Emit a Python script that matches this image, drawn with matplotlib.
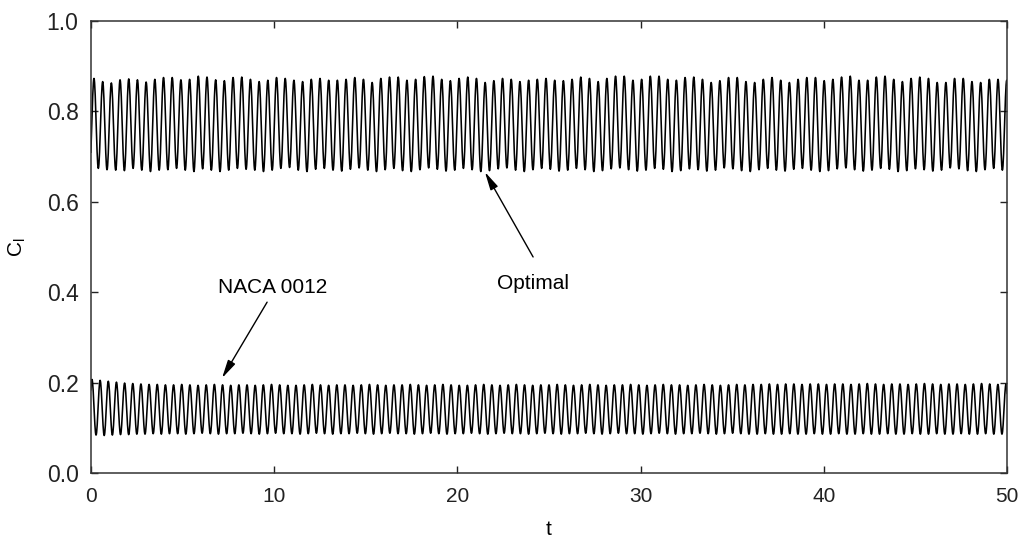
import numpy as np
import matplotlib
matplotlib.use("Agg")
import matplotlib.pyplot as plt

plt.rcParams["font.family"] = ["Liberation Sans", "DejaVu Sans"]
plt.rcParams["mathtext.fontset"] = "custom"
plt.rcParams["mathtext.rm"] = "Liberation Sans"

# Lift coefficient history: successive maxima / minima of each oscillation
optimal_t0 = 0.16          # time of first maximum
optimal_period = 0.4745
optimal_peaks = [
    0.873, 0.866, 0.863, 0.870, 0.872, 0.870, 0.865, 0.871, 0.875, 0.875,
    0.870, 0.871, 0.878, 0.876, 0.870, 0.868, 0.875, 0.876, 0.871, 0.866,
    0.869, 0.875, 0.873, 0.869, 0.866, 0.871, 0.873, 0.869, 0.869,
    0.871, 0.875, 0.871, 0.864, 0.873, 0.876, 0.876, 0.869, 0.871, 0.877,
    0.878, 0.871, 0.868, 0.873, 0.876, 0.873, 0.864, 0.868, 0.873, 0.871,
    0.866, 0.869, 0.871, 0.873, 0.869, 0.868,
    0.871, 0.876, 0.873, 0.866, 0.873, 0.878, 0.878, 0.869, 0.871, 0.878,
    0.878, 0.871, 0.869, 0.875, 0.876, 0.871, 0.864, 0.868, 0.875, 0.875,
    0.866, 0.864, 0.871, 0.875, 0.869, 0.864, 0.871, 0.875,
    0.875, 0.868, 0.871, 0.876, 0.878, 0.869, 0.869, 0.876, 0.878, 0.871,
    0.866, 0.873, 0.876, 0.873, 0.864, 0.864, 0.873, 0.873, 0.866, 0.864,
    0.871, 0.871, 0.869,
]
optimal_troughs = [
    0.672, 0.674, 0.671, 0.670, 0.669, 0.674, 0.670, 0.667, 0.670, 0.671,
    0.674, 0.670, 0.667, 0.673, 0.670, 0.667, 0.670, 0.674, 0.672, 0.670,
    0.667, 0.670, 0.674, 0.676, 0.670, 0.667, 0.672, 0.674, 0.670,
    0.668, 0.672, 0.675, 0.670, 0.667, 0.671, 0.674, 0.669, 0.667, 0.671,
    0.675, 0.672, 0.668, 0.670, 0.674, 0.671, 0.667, 0.669, 0.673, 0.675,
    0.670, 0.667, 0.671, 0.674, 0.672, 0.668,
    0.670, 0.674, 0.671, 0.667, 0.669, 0.673, 0.675, 0.671, 0.668, 0.670,
    0.674, 0.672, 0.667, 0.669, 0.673, 0.671, 0.668, 0.670, 0.675, 0.673,
    0.669, 0.667, 0.671, 0.674, 0.670, 0.668, 0.672, 0.674,
    0.670, 0.667, 0.669, 0.673, 0.675, 0.671, 0.668, 0.670, 0.674, 0.672,
    0.667, 0.669, 0.673, 0.671, 0.668, 0.670, 0.675, 0.673, 0.669, 0.667,
    0.671, 0.674, 0.670, 0.668,
]

naca_t0 = 0.05
naca_period = 0.4455
naca_peaks = [
    0.207, 0.205, 0.203, 0.201, 0.199, 0.198, 0.197, 0.196, 0.196, 0.195,
    0.195, 0.196, 0.195, 0.194, 0.195, 0.196, 0.195, 0.194, 0.195, 0.195,
    0.194, 0.195, 0.196, 0.195, 0.194, 0.194, 0.195, 0.196, 0.195, 0.194,
    0.195, 0.195, 0.194, 0.195, 0.196, 0.195, 0.194, 0.195, 0.195, 0.196,
    0.195, 0.194, 0.195, 0.196, 0.195, 0.194, 0.194, 0.195, 0.196, 0.195,
    0.194, 0.195, 0.196, 0.195, 0.194, 0.195, 0.195, 0.196, 0.195, 0.194,
    0.195, 0.196, 0.195, 0.194, 0.195, 0.195, 0.196, 0.195, 0.194, 0.195,
    0.196, 0.195, 0.195, 0.194, 0.195, 0.196, 0.195, 0.194, 0.195, 0.196,
    0.195, 0.196, 0.196, 0.197, 0.196, 0.197, 0.197, 0.196, 0.197, 0.197,
    0.196, 0.197, 0.197, 0.196, 0.197, 0.198, 0.197, 0.196, 0.197, 0.197,
    0.196, 0.197, 0.198, 0.197, 0.196, 0.197, 0.197, 0.196, 0.197, 0.198,
    0.197, 0.196, 0.197,
]
naca_troughs = [
    0.086, 0.084, 0.083, 0.084, 0.085, 0.085, 0.086, 0.086, 0.087, 0.086,
    0.087, 0.087, 0.086, 0.087, 0.088, 0.087, 0.086, 0.087, 0.087, 0.088,
    0.087, 0.086, 0.087, 0.088, 0.087, 0.087, 0.086, 0.087, 0.088, 0.087,
    0.086, 0.087, 0.087, 0.088, 0.087, 0.086, 0.087, 0.088, 0.087, 0.087,
    0.086, 0.087, 0.088, 0.087, 0.086, 0.087, 0.087, 0.088, 0.087, 0.086,
    0.087, 0.088, 0.087, 0.087, 0.086, 0.087, 0.088, 0.087, 0.086, 0.087,
    0.087, 0.088, 0.087, 0.086, 0.087, 0.088, 0.087, 0.087, 0.086, 0.087,
    0.088, 0.087, 0.086, 0.087, 0.087, 0.088, 0.087, 0.086, 0.087, 0.088,
    0.087, 0.086, 0.086, 0.087, 0.086, 0.086, 0.087, 0.086, 0.086, 0.087,
    0.086, 0.086, 0.087, 0.086, 0.086, 0.087, 0.086, 0.086, 0.087, 0.086,
    0.086, 0.087, 0.086, 0.086, 0.087, 0.086, 0.086, 0.087, 0.086, 0.086,
    0.087, 0.086, 0.086, 0.087,
]

x_ticks = [0, 10, 20, 30, 40, 50]
y_ticks = [0.0, 0.2, 0.4, 0.6, 0.8, 1.0]


def oscillation(t0, period, peaks, troughs, n=14):
    """Smooth half-cosine segments through alternating minima and maxima."""
    ext = []
    for i, p in enumerate(peaks):
        ext.append(troughs[i])
        ext.append(p)
    ext.append(troughs[len(peaks)])
    ext = np.asarray(ext)
    t_ext = t0 - period / 2 + np.arange(len(ext)) * period / 2
    s = np.linspace(0, 1, n, endpoint=False)
    shape = (1 - np.cos(np.pi * s)) / 2
    tt, yy = [], []
    for k in range(len(ext) - 1):
        tt.append(t_ext[k] + s * period / 2)
        yy.append(ext[k] + (ext[k + 1] - ext[k]) * shape)
    tt.append([t_ext[-1]])
    yy.append([ext[-1]])
    return np.concatenate(tt), np.concatenate(yy)


fig = plt.figure(figsize=(10.23, 5.38), dpi=100)
ax = fig.add_axes([0.0890, 0.1208, 0.8954, 0.8401])

t_opt, cl_opt = oscillation(optimal_t0, optimal_period, optimal_peaks, optimal_troughs)
t_naca, cl_naca = oscillation(naca_t0, naca_period, naca_peaks, naca_troughs)

ax.plot(t_opt, cl_opt, color="black", lw=1.15)
ax.plot(t_naca, cl_naca, color="black", lw=1.15)

ax.set_xlim(0, 50)
ax.set_ylim(0, 1.0)
ax.set_xticks(x_ticks)
ax.set_yticks(y_ticks)
ax.set_xticklabels([str(v) for v in x_ticks])
ax.set_yticklabels([f"{v:.1f}" for v in y_ticks])

ax.tick_params(direction="in", length=5, width=1.0, top=True, right=True,
               colors="#222222")
ax.tick_params(axis="x", pad=10, labelsize=15)
ax.tick_params(axis="y", pad=9, labelsize=16.5)
for sp in ax.spines.values():
    sp.set_linewidth(1.1)
    sp.set_color("#333333")

ax.set_xlabel("t", fontsize=15)
ax.set_ylabel(r"C$_\mathregular{l}$", fontsize=15)
ax.xaxis.set_label_coords(0.5, -0.103)
ax.yaxis.set_label_coords(-0.069, 0.5)

arrow = dict(arrowstyle="-|>,head_length=1.1,head_width=0.25",
             color="black", lw=1.0, shrinkA=0, shrinkB=0)
ax.annotate("", xy=(7.15, 0.210), xytext=(9.61, 0.378), arrowprops=arrow)
ax.text(9.93, 0.411, "NACA 0012", fontsize=15, ha="center", va="center")
ax.annotate("", xy=(21.5, 0.666), xytext=(24.13, 0.478), arrowprops=arrow)
ax.text(24.13, 0.420, "Optimal", fontsize=15, ha="center", va="center")

fig.savefig("out.png", dpi=100)
